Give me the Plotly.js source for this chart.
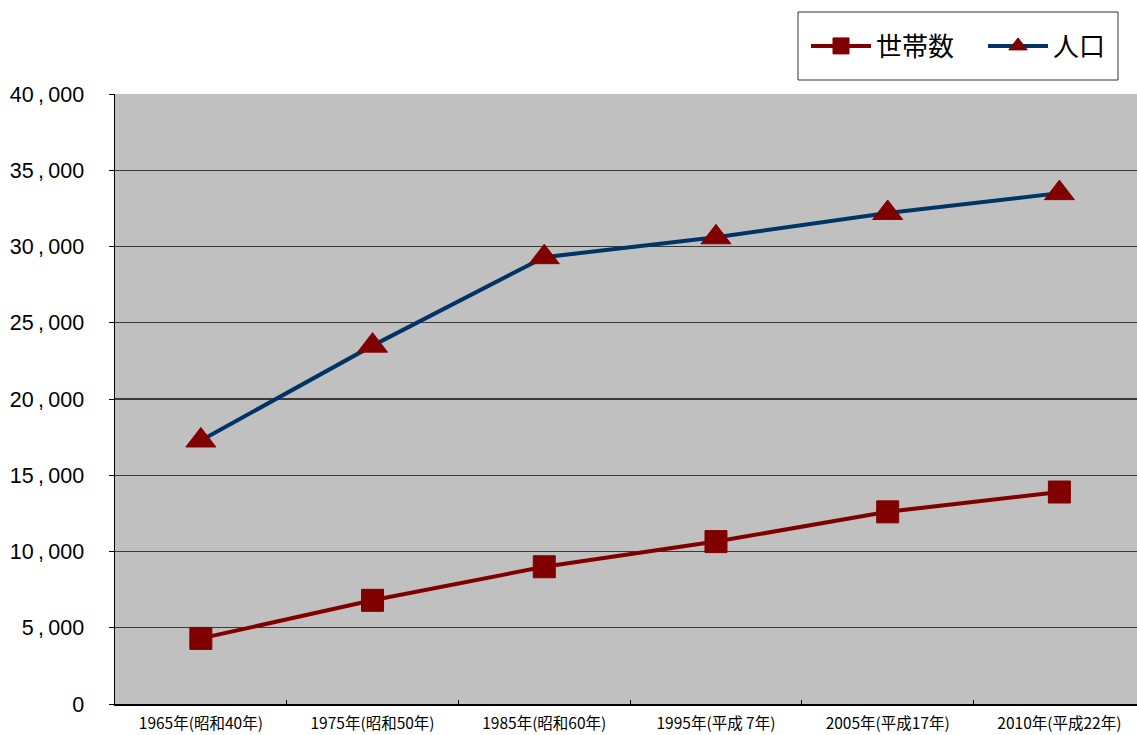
<!DOCTYPE html>
<html>
<head>
<meta charset="utf-8">
<script src="https://cdn.plot.ly/plotly-3.0.1.min.js"></script>
<style>
html,body{margin:0;padding:0;background:#fff;overflow:hidden;}
#chart{width:1137px;height:735px;}
</style>
</head>
<body>
<div id="chart"></div>
<script>
const categories = ["1965年(昭和40年)", "1975年(昭和50年)", "1985年(昭和60年)", "1995年(平成 7年)", "2005年(平成17年)", "2010年(平成22年)"];
const households = [4300, 6800, 9000, 10650, 12600, 13900];
const population = [17280, 23500, 29300, 30600, 32200, 33500];
const yTickVals = [0, 5000, 10000, 15000, 20000, 25000, 30000, 35000, 40000];
const yTickText = ["0", "5\u2009,\u2009000", "10\u2009,\u2009000", "15\u2009,\u2009000", "20\u2009,\u2009000", "25\u2009,\u2009000", "30\u2009,\u2009000", "35\u2009,\u2009000", "40\u2009,\u2009000"];

const jp = '"Noto Sans CJK JP", "Liberation Sans", sans-serif';

const traces = [
  {
    x: categories, y: households, name: "世帯数", type: "scatter", mode: "lines+markers",
    line: {color: "#800000", width: 4},
    marker: {symbol: "square", size: 22, color: "#800000", line: {color: "#800000", width: 1}}
  },
  {
    x: categories, y: population, name: "人口", type: "scatter", mode: "lines+markers",
    line: {color: "#003366", width: 4},
    marker: {symbol: "triangle-up", size: 26, color: "#800000", line: {color: "#800000", width: 1}}
  }
];

const W = 1137, H = 735, L = 115, T = 94, B = 31;
const pw = W - L, ph = H - T - B;
const px2x = p => (p - L) / pw;
const px2y = p => (H - B - p) / ph;

const layout = {
  width: W, height: H,
  margin: {l: L, r: 0, t: T, b: B, pad: 0, autoexpand: false},
  paper_bgcolor: "#ffffff",
  plot_bgcolor: "#c0c0c0",
  font: {family: jp, color: "#000"},
  showlegend: true,
  legend: {
    orientation: "h", x: px2x(806), xanchor: "left", y: px2y(46), yanchor: "middle",
    borderwidth: 0, bgcolor: "rgba(0,0,0,0)",
    font: {family: jp, size: 26, color: "#000"},
    itemwidth: 60, entrywidth: 102
  },
  shapes: [{
    type: "rect", xref: "paper", yref: "paper",
    x0: px2x(798), x1: px2x(1118), y0: px2y(80), y1: px2y(12),
    line: {color: "#333", width: 1}, fillcolor: "rgba(0,0,0,0)", layer: "below"
  }],
  xaxis: {
    type: "category",
    range: [-0.5, 5.452],
    showline: true, linecolor: "#000", linewidth: 1.5,
    ticks: "inside", ticklen: 4, tickcolor: "#000", tickson: "boundaries",
    showgrid: false, zeroline: false, tickangle: 0, automargin: false,
    tickfont: {family: jp, size: 15.5, color: "#000"},
    ticklabelstandoff: 5,
    fixedrange: true
  },
  yaxis: {
    range: [0, 40000],
    tickvals: yTickVals, ticktext: yTickText,
    showline: true, linecolor: "#000", linewidth: 1.5,
    ticks: "outside", ticklen: 5, tickcolor: "#000",
    showgrid: true, gridcolor: "#3a3a3a", gridwidth: 1.2,
    zeroline: false, automargin: false,
    tickfont: {family: '"Liberation Sans", Arial, sans-serif', size: 21.5, color: "#000"},
    ticklabelstandoff: 20,
    fixedrange: true
  }
};

Plotly.newPlot("chart", traces, layout, {displayModeBar: false, staticPlot: true});
</script>
</body>
</html>
